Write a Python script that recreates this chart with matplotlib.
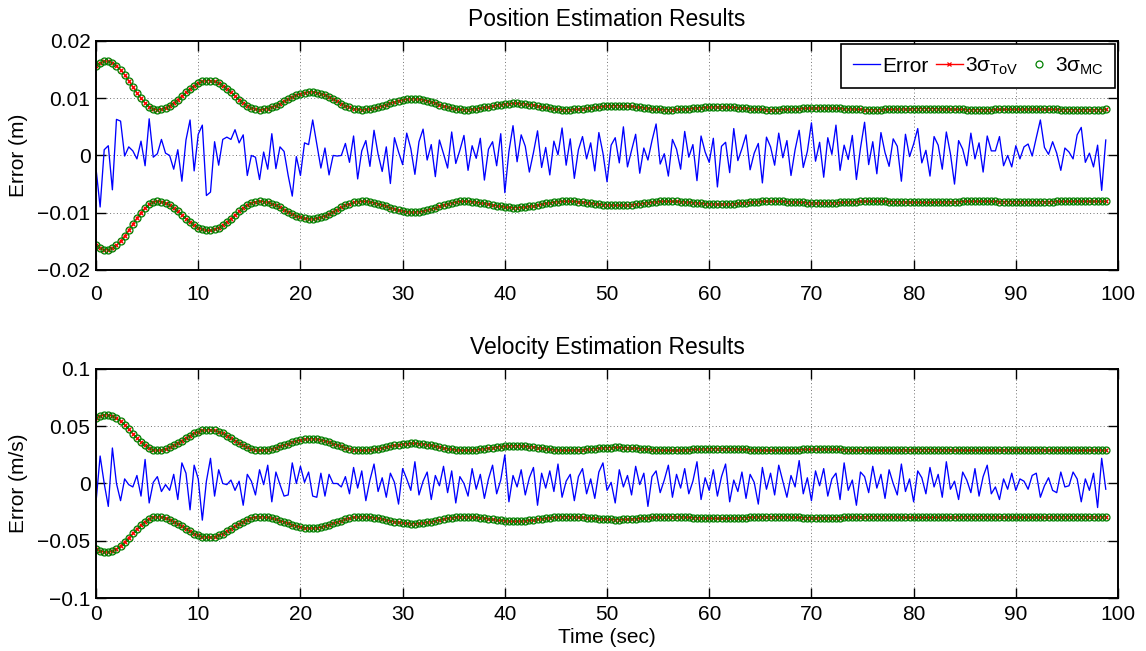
import numpy as np
import matplotlib.pyplot as plt
from matplotlib.ticker import FuncFormatter

plt.rcParams['font.family'] = ['Liberation Sans', 'DejaVu Sans']
plt.rcParams['mathtext.default'] = 'regular'

dt = 0.4  # sample period (sec)

# position error (m)
pos_err = [
    -0.0023, -0.0090, 0.0010, 0.0017, -0.0060, 0.0063, 0.0060, -0.0001, 0.0015, 0.0008,
    -0.0006, 0.0025, -0.0018, 0.0064, -0.0003, 0.0003, 0.0028, 0.0004, 0.0000, -0.0024,
    0.0010, -0.0045, 0.0027, 0.0062, -0.0027, 0.0037, 0.0053, -0.0070, -0.0064, 0.0024,
    -0.0017, 0.0028, 0.0032, 0.0028, 0.0045, 0.0022, 0.0036, -0.0035, 0.0000, -0.0003,
    -0.0042, 0.0006, -0.0024, 0.0038, -0.0023, 0.0015, 0.0007, -0.0035, -0.0071, -0.0002,
    -0.0035, 0.0022, 0.0019, 0.0062, 0.0020, -0.0022, 0.0013, -0.0034, 0.0000, -0.0001,
    0.0000,
    0.0021, -0.0012, 0.0034, -0.0041, 0.0008, 0.0026, -0.0019, 0.0044, 0.0002, -0.0028,
    0.0015, -0.0049, 0.0031, 0.0006, -0.0016, 0.0039, 0.0012, -0.0033, 0.0024, 0.0046,
    -0.0008, 0.0019, -0.0037, 0.0027, 0.0003, -0.0022, 0.0041, -0.0014, 0.0009, 0.0035,
    -0.0026, 0.0017, -0.0005, 0.0030, -0.0043, 0.0011, 0.0024, -0.0018, 0.0038, -0.0065,
    0.0007, 0.0052, -0.0011, 0.0036, 0.0016, -0.0029, 0.0005, 0.0043, -0.0021, 0.0014,
    -0.0034, 0.0025, 0.0001, 0.0048, -0.0017, 0.0029, -0.0040, 0.0010, 0.0033, -0.0006,
    0.0022, -0.0027, 0.0040, 0.0004, -0.0046, 0.0018, 0.0031, -0.0013, 0.0050, -0.0020,
    0.0009, 0.0037, -0.0031, 0.0013, -0.0008, 0.0026, 0.0055, -0.0015, 0.0003, -0.0036,
    0.0028, 0.0011, -0.0024, 0.0042, -0.0003, 0.0019, -0.0044, 0.0034, 0.0006, -0.0012,
    0.0030, -0.0055, 0.0016, 0.0023, -0.0030, 0.0047, -0.0009, 0.0012, 0.0036, -0.0025,
    0.0004, 0.0021, -0.0048, 0.0032, 0.0015, -0.0017, 0.0039, -0.0004, 0.0026, -0.0035,
    0.0010, 0.0044, -0.0021, 0.0007, 0.0057, -0.0010, 0.0023, -0.0038, 0.0031, 0.0002,
    0.0053, -0.0026, 0.0018, -0.0007, 0.0035, -0.0042, 0.0013, 0.0058, -0.0016, 0.0024,
    -0.0032, 0.0040, 0.0005, -0.0019, 0.0029, 0.0016, -0.0045, 0.0037, -0.0002, 0.0020,
    0.0047, -0.0013, 0.0009, -0.0036, 0.0033, 0.0018, -0.0024, 0.0041, 0.0003, -0.0050,
    0.0026, 0.0011, -0.0018, 0.0039, -0.0006, 0.0022, -0.0029, 0.0034, 0.0008, 0.0008,
    0.0033, -0.0018, 0.0000, -0.0020, 0.0017, -0.0006, 0.0015, 0.0020, -0.0001, 0.0031,
    0.0062, 0.0014, 0.0002, 0.0024, 0.0004, -0.0026, 0.0013, 0.0006, -0.0006, 0.0036,
    0.0049, -0.0012, 0.0004, -0.0020, 0.0018, -0.0061, 0.0027,
]

# position 3-sigma bound (m), theory of variance
pos_sigma_tov = [
    0.01569, 0.01620, 0.01647, 0.01647, 0.01620, 0.01569, 0.01496, 0.01406, 0.01305, 0.01199,
    0.01093, 0.00997, 0.00916, 0.00853, 0.00814,
    0.00800, 0.00808, 0.00832, 0.00869, 0.00918, 0.00976, 0.01039, 0.01103, 0.01164, 0.01218,
    0.01262, 0.01292, 0.01308, 0.01308, 0.01292, 0.01262, 0.01218, 0.01164, 0.01103, 0.01039,
    0.00976, 0.00918, 0.00869, 0.00832, 0.00808,
    0.00800, 0.00805, 0.00819, 0.00842, 0.00872, 0.00907, 0.00945, 0.00984, 0.01021, 0.01054,
    0.01081, 0.01099, 0.01109, 0.01109, 0.01099, 0.01081, 0.01054, 0.01021, 0.00984, 0.00945,
    0.00907, 0.00872, 0.00842, 0.00819, 0.00805,
    0.00800, 0.00803, 0.00812, 0.00826, 0.00844, 0.00866, 0.00889, 0.00913, 0.00935, 0.00956,
    0.00972, 0.00983, 0.00989, 0.00989, 0.00983, 0.00972, 0.00956, 0.00935, 0.00913, 0.00889,
    0.00866, 0.00844, 0.00826, 0.00812, 0.00803,
    0.00800, 0.00802, 0.00807, 0.00815, 0.00826, 0.00838, 0.00852, 0.00865, 0.00878, 0.00890,
    0.00900, 0.00906, 0.00910, 0.00910, 0.00906, 0.00900, 0.00890, 0.00878, 0.00865, 0.00852,
    0.00838, 0.00826, 0.00815, 0.00807, 0.00802,
    0.00800, 0.00801, 0.00804, 0.00810, 0.00816, 0.00824, 0.00833, 0.00842, 0.00850, 0.00857,
    0.00863, 0.00868, 0.00870, 0.00870, 0.00868, 0.00863, 0.00857, 0.00850, 0.00842, 0.00833,
    0.00824, 0.00816, 0.00810, 0.00804, 0.00801,
    0.00800, 0.00801, 0.00803, 0.00807, 0.00812, 0.00817, 0.00823, 0.00830, 0.00836, 0.00841,
    0.00845, 0.00848, 0.00850, 0.00850, 0.00848, 0.00845, 0.00841, 0.00836, 0.00830, 0.00823,
    0.00817, 0.00812, 0.00807, 0.00803, 0.00801,
    0.00800, 0.00800, 0.00802, 0.00804, 0.00807, 0.00810, 0.00814, 0.00818, 0.00821, 0.00825,
    0.00827, 0.00829, 0.00830, 0.00830, 0.00829, 0.00827, 0.00825, 0.00821, 0.00818, 0.00814,
    0.00810, 0.00807, 0.00804, 0.00802, 0.00800,
    0.00800, 0.00800, 0.00801, 0.00803, 0.00805, 0.00807, 0.00809, 0.00812, 0.00814, 0.00816,
    0.00818, 0.00819, 0.00820, 0.00820, 0.00819, 0.00818, 0.00816, 0.00814, 0.00812, 0.00809,
    0.00807, 0.00805, 0.00803, 0.00801, 0.00800,
    0.00800, 0.00800, 0.00801, 0.00801, 0.00802, 0.00803, 0.00805, 0.00806, 0.00807, 0.00808,
    0.00809, 0.00810, 0.00810, 0.00810, 0.00810, 0.00809, 0.00808, 0.00807, 0.00806, 0.00805,
    0.00803, 0.00802, 0.00801, 0.00801, 0.00800,
    0.00800, 0.00800, 0.00800, 0.00801, 0.00801, 0.00802, 0.00802, 0.00803,
]
# Monte Carlo 3-sigma lies on top of the analytic one
pos_sigma_mc = list(pos_sigma_tov)

# velocity error (m/s)
vel_err = [
    -0.016, 0.024, 0.000, -0.020, 0.031, 0.000, -0.015, 0.004, -0.001, -0.003,
    0.007, -0.011, 0.021, -0.017, 0.001, 0.006, -0.007, -0.001, -0.006, 0.008,
    -0.014, 0.018, 0.009, -0.023, 0.016, 0.004, -0.032, 0.002, 0.022, -0.011,
    0.012, 0.000, -0.001, 0.003, -0.006, 0.002, -0.019, 0.008, 0.002, -0.010,
    0.012, -0.001, 0.016, -0.016, 0.010, -0.001, -0.011, -0.010, 0.018, 0.000,
    0.015, 0.001, 0.010, -0.011, -0.012, 0.009, -0.011, 0.008, 0.000, 0.000,
    -0.003,
    0.006, -0.009, 0.014, -0.004, 0.011, -0.015, 0.003, 0.017, -0.007, 0.005,
    -0.012, 0.009, 0.001, -0.018, 0.013, 0.004, -0.006, 0.019, -0.010, 0.002,
    0.010, -0.014, 0.007, -0.002, 0.015, -0.008, 0.011, -0.017, 0.006, 0.000,
    -0.011, 0.013, -0.005, 0.008, -0.013, 0.004, 0.016, -0.009, 0.003, 0.025,
    -0.016, 0.007, -0.003, 0.012, -0.010, 0.005, 0.014, -0.019, 0.009, -0.004,
    0.011, -0.007, 0.017, -0.012, 0.002, 0.008, -0.015, 0.006, 0.013, -0.009,
    0.004, -0.013, 0.010, 0.018, -0.006, 0.001, -0.017, 0.012, -0.003, 0.007,
    -0.010, 0.015, -0.001, 0.009, -0.020, 0.006, 0.011, -0.008, 0.003, 0.016,
    -0.012, 0.008, -0.004, 0.013, -0.009, 0.002, 0.019, -0.014, 0.005, -0.006,
    0.012, -0.011, 0.006, 0.017, -0.016, 0.003, -0.007, 0.010, -0.013, 0.008,
    0.001, -0.018, 0.014, -0.005, 0.009, -0.010, 0.016, 0.002, -0.012, 0.007,
    -0.003, 0.020, -0.009, 0.005, -0.015, 0.011, -0.002, 0.013, -0.011, 0.004,
    0.009, -0.014, 0.018, -0.006, 0.003, -0.019, 0.010, 0.006, -0.008, 0.015,
    -0.004, 0.008, -0.013, 0.012, 0.000, -0.010, 0.017, -0.007, 0.004, -0.016,
    0.011, 0.005, -0.009, 0.014, -0.003, 0.008, -0.012, 0.019, -0.005, 0.002,
    -0.014, 0.010, 0.003, -0.008, 0.013, -0.011, 0.006, 0.016, -0.009, -0.003,
    -0.014, 0.004, -0.005, 0.009, -0.006, 0.004, 0.002, -0.005, 0.007, 0.009,
    -0.012, -0.002, 0.005, -0.006, -0.008, 0.010, -0.003, -0.002, 0.010, 0.004,
    -0.016, 0.004, -0.006, 0.009, -0.021, 0.022, -0.005,
]

# velocity 3-sigma bound (m/s)
vel_sigma_tov = [
    0.0571, 0.0589, 0.0599, 0.0599, 0.0589, 0.0571, 0.0544, 0.0511, 0.0474, 0.0435,
    0.0397, 0.0362, 0.0332, 0.0309, 0.0295,
    0.0290, 0.0293, 0.0301, 0.0315, 0.0332, 0.0352, 0.0374, 0.0397, 0.0418, 0.0437,
    0.0453, 0.0464, 0.0469, 0.0469, 0.0464, 0.0453, 0.0437, 0.0418, 0.0397, 0.0374,
    0.0352, 0.0332, 0.0315, 0.0301, 0.0293,
    0.0290, 0.0292, 0.0296, 0.0304, 0.0313, 0.0325, 0.0337, 0.0349, 0.0361, 0.0372,
    0.0381, 0.0387, 0.0390, 0.0390, 0.0387, 0.0381, 0.0372, 0.0361, 0.0349, 0.0337,
    0.0325, 0.0313, 0.0304, 0.0296, 0.0292,
    0.0290, 0.0291, 0.0294, 0.0298, 0.0304, 0.0311, 0.0318, 0.0326, 0.0333, 0.0339,
    0.0344, 0.0348, 0.0350, 0.0350, 0.0348, 0.0344, 0.0339, 0.0333, 0.0326, 0.0318,
    0.0311, 0.0304, 0.0298, 0.0294, 0.0291,
    0.0290, 0.0291, 0.0292, 0.0295, 0.0299, 0.0304, 0.0309, 0.0314, 0.0319, 0.0323,
    0.0326, 0.0329, 0.0330, 0.0330, 0.0329, 0.0326, 0.0323, 0.0319, 0.0314, 0.0309,
    0.0304, 0.0299, 0.0295, 0.0292, 0.0291,
    0.0290, 0.0290, 0.0292, 0.0293, 0.0296, 0.0299, 0.0302, 0.0305, 0.0308, 0.0310,
    0.0313, 0.0314, 0.0315, 0.0315, 0.0314, 0.0313, 0.0310, 0.0308, 0.0305, 0.0302,
    0.0299, 0.0296, 0.0293, 0.0292, 0.0290,
    0.0290, 0.0290, 0.0291, 0.0292, 0.0293, 0.0295, 0.0297, 0.0299, 0.0301, 0.0302,
    0.0304, 0.0304, 0.0305, 0.0305, 0.0304, 0.0304, 0.0302, 0.0301, 0.0299, 0.0297,
    0.0295, 0.0293, 0.0292, 0.0291, 0.0290,
    0.0290, 0.0290, 0.0291, 0.0291, 0.0292, 0.0293, 0.0295, 0.0296, 0.0297, 0.0298,
    0.0299, 0.0300, 0.0300, 0.0300, 0.0300, 0.0299, 0.0298, 0.0297, 0.0296, 0.0295,
    0.0293, 0.0292, 0.0291, 0.0291, 0.0290,
    0.0290, 0.0290, 0.0290, 0.0291, 0.0291, 0.0292, 0.0293, 0.0294, 0.0294, 0.0295,
    0.0295, 0.0296, 0.0296, 0.0296, 0.0296, 0.0295, 0.0295, 0.0294, 0.0294, 0.0293,
    0.0292, 0.0291, 0.0291, 0.0290, 0.0290,
    0.0290, 0.0290, 0.0290, 0.0291, 0.0291, 0.0291, 0.0292, 0.0292, 0.0293, 0.0293,
    0.0294, 0.0294, 0.0294, 0.0294, 0.0294, 0.0294, 0.0293, 0.0293, 0.0292, 0.0292,
    0.0291, 0.0291, 0.0291, 0.0290, 0.0290,
    0.0290, 0.0290, 0.0290, 0.0290, 0.0291, 0.0291, 0.0291, 0.0291,
]
vel_sigma_mc = list(vel_sigma_tov)

time = np.arange(len(pos_err)) * dt

FS = 15
green = (0.0, 0.5, 0.0)


def fmt(v, pos):
    return ('%g' % v).replace('-', '\u2212')


def draw_panel(ax, err, sig_tov, sig_mc, yl, yticks, ylabel, title, xpad):
    sig_tov = np.array(sig_tov)
    sig_mc = np.array(sig_mc)
    ax.plot(time, err, color='b', lw=0.95, label='Error')
    ax.plot(time, sig_tov, color='r', lw=1.0, marker='x', ms=3, mew=0.9,
            label='3σ$_{ToV}$')
    ax.plot(time, sig_mc, ls='none', marker='o', ms=5.0, mfc='none',
            mec=green, mew=0.9, label='3σ$_{MC}$')
    ax.plot(time, -sig_tov, color='r', lw=1.0, marker='x', ms=3, mew=0.9)
    ax.plot(time, -sig_mc, ls='none', marker='o', ms=5.0, mfc='none',
            mec=green, mew=0.9)

    ax.set_xlim(0, 100)
    ax.set_ylim(yl)
    ax.set_xticks(np.arange(0, 101, 10))
    ax.set_yticks(yticks)
    ax.yaxis.set_major_formatter(FuncFormatter(fmt))
    ax.grid(True, ls=(0, (1, 2.5)), color='0.45', lw=0.7)
    ax.set_axisbelow(True)
    for s in ax.spines.values():
        s.set_linewidth(1.4)
    ax.tick_params(axis='both', direction='in', length=7, width=1.0,
                   top=True, right=True, labelsize=FS)
    ax.tick_params(axis='x', pad=xpad)
    ax.tick_params(axis='y', pad=4)
    ax.set_ylabel(ylabel, fontsize=FS, labelpad=7)
    ax.set_title(title, fontsize=16.5, pad=11)


fig = plt.figure(figsize=(11.46, 6.51), dpi=100)
ax1 = fig.add_axes([0.0838, 0.5853, 0.8918, 0.3518])
ax2 = fig.add_axes([0.0838, 0.0814, 0.8918, 0.3518])

draw_panel(ax1, pos_err, pos_sigma_tov, pos_sigma_mc, (-0.02, 0.02),
           [-0.02, -0.01, 0, 0.01, 0.02], 'Error (m)',
           'Position Estimation Results', 11)
draw_panel(ax2, vel_err, vel_sigma_tov, vel_sigma_mc, (-0.1, 0.1),
           [-0.1, -0.05, 0, 0.05, 0.1], 'Error (m/s)',
           'Velocity Estimation Results', 5)
ax2.set_xlabel('Time (sec)', fontsize=FS, labelpad=3)

leg = ax1.legend(loc='upper right', ncol=3, fontsize=15, frameon=True,
                 fancybox=False, framealpha=1, edgecolor='k',
                 borderaxespad=0.15, handlelength=1.3, handletextpad=0.1,
                 columnspacing=0.35, borderpad=0.55)
leg.get_frame().set_linewidth(1.2)

fig.savefig('out.png', dpi=100)
